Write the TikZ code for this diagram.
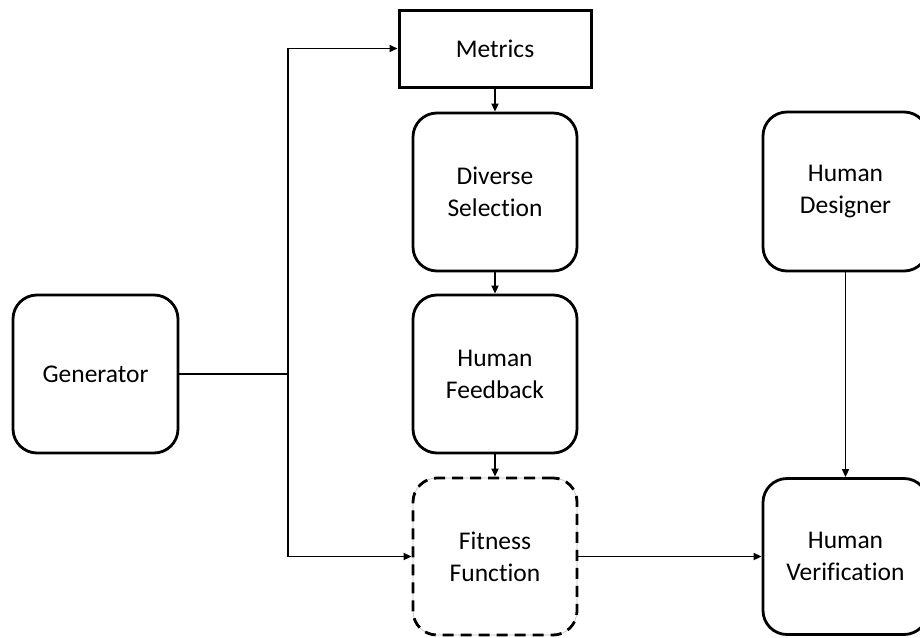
\documentclass[tikz,border=0pt]{standalone}
\usepackage{fontspec}
\setmainfont{Carlito}[Ligatures=NoCommon]
\usetikzlibrary{arrows.meta}
\begin{document}
\begin{tikzpicture}[x=1pt,y=-1pt,
  box/.style={draw=black,line width=2.8pt,rounded corners=24pt,align=center,
    font=\fontsize{25.5}{32}\selectfont,inner sep=0pt,
    minimum width=164pt,minimum height=158pt},
  sqbox/.style={box,rounded corners=0pt,minimum width=192pt,minimum height=77pt,line width=3pt},
  dashbox/.style={box,dash pattern=on 11pt off 7pt,
    preaction={draw=black!25,line width=0.6pt,solid}},
  conn/.style={line width=1.7pt,-{Triangle[length=8pt,width=7pt]}},
  wire/.style={line width=1.7pt}]
\useasboundingbox (0,0) rectangle (920,637);
\node[sqbox] (met) at (495,48.5) {Metrics};
\node[box] (ds) at (495,192) {Diverse\\Selection};
\node[box] (hf) at (495,374) {Human\\Feedback};
\node[dashbox,minimum height=157pt] (fit) at (495,556.5) {Fitness\\Function};
\node[box,minimum width=165pt] (gen) at (95.5,374) {Generator};
\node[box,minimum width=165pt,minimum height=159pt] (hd) at (845.5,191.5) {Human\\Designer};
\node[box,minimum width=165pt,minimum height=156pt] (hv) at (845.5,556.5) {Human\\Verification};
\coordinate (j) at (288,374);
\draw[wire] (gen.east) -- (j);
\draw[conn] (j) |- (met.west);
\draw[conn] (j) |- (fit.west);
\draw[conn] (met.south) -- (ds.north);
\draw[conn] (ds.south) -- (hf.north);
\draw[conn] (hf.south) -- (fit.north);
\draw[conn] (fit.east) -- (hv.west);
\draw[conn] (hd.south) -- (hv.north);
\end{tikzpicture}
\end{document}
